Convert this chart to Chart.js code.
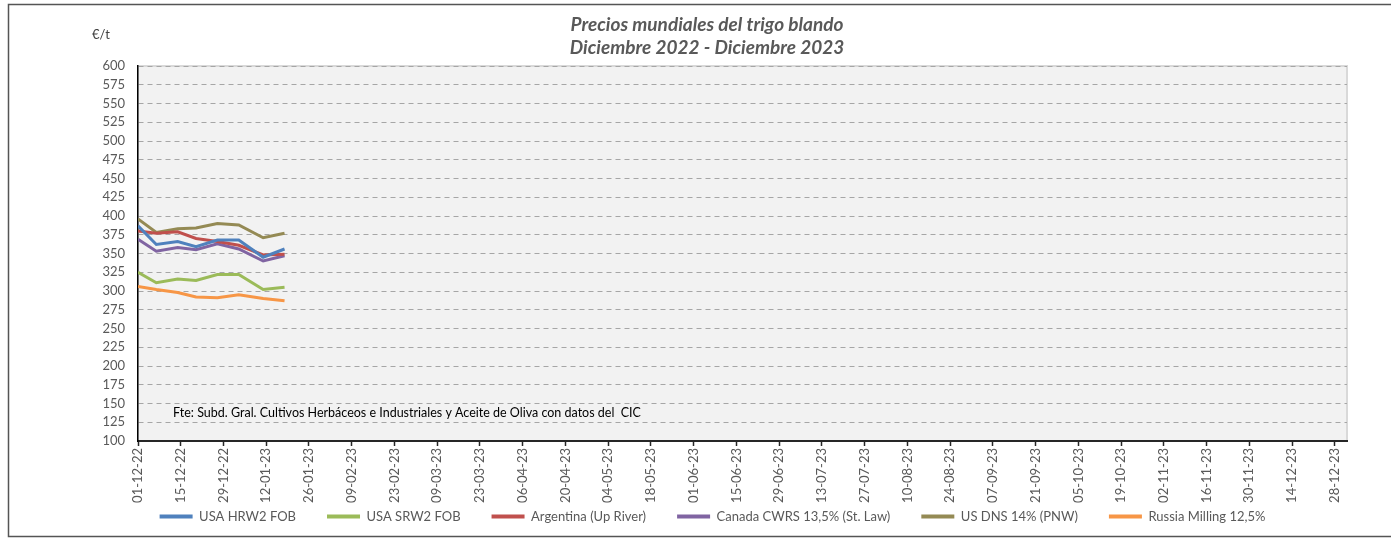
<!DOCTYPE html>
<html>
<head>
<meta charset="utf-8">
<script src="https://cdn.jsdelivr.net/npm/chart.js@4/dist/chart.umd.min.js"></script>
<style>
    html, body { margin: 0; padding: 0; background: #ffffff; }
    #wrap { width: 1391px; height: 539px; }
</style>
</head>
<body>
<div id="wrap"><canvas id="line-chart" width="1391" height="539"></canvas></div>
<script>
// fechas de cotizacion (dd-mm-aa)
const fechas = ['01-12-22', '07-12-22', '14-12-22', '20-12-22', '27-12-22', '03-01-23', '11-01-23', '18-01-23']

const usaHrw2 = [387, 362, 366, 359, 368, 368, 345, 356]
const usaSrw2 = [325, 311, 316, 314, 322, 322, 302, 305]
const argentina = [380, 377, 379, 370, 366, 361, 348, 349]
const canadaCwrs = [369, 353, 358, 355, 363, 356, 340, 347]
const usDns = [396, 378, 383, 384, 390, 388, 371, 377]
const russiaMilling = [306, 302, 298, 292, 291, 295, 290, 287]

const etiquetasX = [
    '01-12-22', '15-12-22', '29-12-22', '12-01-23', '26-01-23', '09-02-23', '23-02-23',
    '09-03-23', '23-03-23', '06-04-23', '20-04-23', '04-05-23', '18-05-23', '01-06-23',
    '15-06-23', '29-06-23', '13-07-23', '27-07-23', '10-08-23', '24-08-23', '07-09-23',
    '21-09-23', '05-10-23', '19-10-23', '02-11-23', '16-11-23', '30-11-23', '14-12-23', '28-12-23'
]
const fechaFin = '01-01-24'

const Utils = {
    inicio: Date.UTC(2022, 11, 1),

    toDays(str) {
        const p = str.split('-')
        const t = Date.UTC(2000 + Number(p[2]), Number(p[1]) - 1, Number(p[0]))
        return Math.round((t - this.inicio) / 86400000)
    },

    toLabel(days) {
        const d = new Date(this.inicio + days * 86400000)
        const dd = String(d.getUTCDate()).padStart(2, '0')
        const mm = String(d.getUTCMonth() + 1).padStart(2, '0')
        const yy = String(d.getUTCFullYear()).slice(2)
        return `${dd}-${mm}-${yy}`
    },

    points(values) {
        return values.map((v, i) => ({ x: this.toDays(fechas[i]), y: v }))
    }
}

const serie = (label, values, color) => ({
    label: label,
    data: Utils.points(values),
    borderColor: color,
    backgroundColor: color,
    borderWidth: 3,
    pointRadius: 0,
    pointHoverRadius: 0,
    tension: 0
})

const FONT = 'Lato, "Open Sans", sans-serif'

const Decor = {
    id: 'decor',
    afterLayout(chart) {
        // la leyenda va pegada a las etiquetas del eje X
        const lg = chart.legend
        lg.top = 479
        lg.bottom = 536
        lg.height = lg.bottom - lg.top
    },
    beforeDraw(chart) {
        const { ctx, chartArea: a } = chart
        ctx.save()
        // marco exterior
        ctx.strokeStyle = '#555555'
        ctx.lineWidth = 1.5
        ctx.strokeRect(8.5, 4.5, 1400, 532)
        // fondo del area de trazado
        ctx.fillStyle = '#f2f2f2'
        ctx.fillRect(a.left, a.top, a.right - a.left, a.bottom - a.top)
        ctx.strokeStyle = '#d9d9d9'
        ctx.lineWidth = 2
        ctx.strokeRect(a.left, a.top, a.right - a.left, a.bottom - a.top)
        ctx.restore()
    },
    afterDraw(chart) {
        const ctx = chart.ctx
        ctx.save()
        ctx.textBaseline = 'middle'
        ctx.fillStyle = '#595959'
        ctx.textAlign = 'center'
        ctx.font = `italic bold 19px ${FONT}`
        ctx.fillText('Precios mundiales del trigo blando', 707, 25)
        ctx.fillText('Diciembre 2022 - Diciembre 2023', 707, 48)

        ctx.font = `13px ${FONT}`
        ctx.fillStyle = '#404040'
        ctx.fillText('€/t', 101, 35)

        ctx.textAlign = 'left'
        ctx.font = `12.5px ${FONT}`
        ctx.fillStyle = '#000000'
        ctx.fillText('Fte: Subd. Gral. Cultivos Herbáceos e Industriales y Aceite de Oliva con datos del  CIC', 173, 413)
        ctx.restore()
    }
}

const lineChart = new Chart(document.getElementById('line-chart'), {
    type: 'line',
    data: {
        datasets: [
            serie('USA HRW2 FOB', usaHrw2, '#4f81bd'),
            serie('USA SRW2 FOB', usaSrw2, '#9bbb59'),
            serie('Argentina (Up River)', argentina, '#c0504d'),
            serie('Canada CWRS 13,5% (St. Law)', canadaCwrs, '#8064a2'),
            serie('US DNS 14% (PNW)', usDns, '#948a54'),
            serie('Russia Milling 12,5%', russiaMilling, '#f79646')
        ]
    },
    options: {
        responsive: false,
        animation: false,
        layout: {
            padding: { top: 66, left: 78, right: 44, bottom: 7 }
        },
        plugins: {
            title: { display: false },
            tooltip: { enabled: false },
            legend: {
                position: 'bottom',
                align: 'center',
                maxHeight: 25,
                labels: {
                    usePointStyle: true,
                    pointStyle: 'line',
                    pointStyleWidth: 33,
                    boxHeight: 13,
                    padding: 31,
                    color: '#595959',
                    font: { family: FONT, size: 13 },
                    generateLabels(chart) {
                        return Chart.defaults.plugins.legend.labels.generateLabels(chart)
                            .map((item) => ({ ...item, lineWidth: 4 }))
                    }
                }
            }
        },
        scales: {
            x: {
                type: 'linear',
                bounds: 'data',
                min: 0,
                max: Utils.toDays(fechaFin),
                afterBuildTicks(scale) {
                    scale.ticks = etiquetasX.map((l) => ({ value: Utils.toDays(l) }))
                },
                afterFit(scale) {
                    scale.height = 66
                },
                grid: {
                    drawOnChartArea: false,
                    drawTicks: true,
                    tickLength: 5,
                    tickColor: '#262626',
                    tickWidth: 1.5
                },
                border: { display: true, color: '#262626', width: 2 },
                ticks: {
                    autoSkip: false,
                    maxRotation: 90,
                    minRotation: 90,
                    padding: 2,
                    color: '#595959',
                    font: { family: FONT, size: 13 },
                    callback: (v) => Utils.toLabel(v)
                }
            },
            y: {
                min: 100,
                max: 600,
                afterFit(scale) {
                    scale.width = 60
                },
                grid: {
                    drawTicks: false,
                    color: '#a6a6a6',
                    lineWidth: 1
                },
                border: { display: true, color: '#000000', width: 1.5, dash: [5, 4] },
                ticks: {
                    stepSize: 25,
                    padding: 13,
                    color: '#595959',
                    font: { family: FONT, size: 13 }
                }
            }
        }
    },
    plugins: [Decor]
})
</script>
</body>
</html>
